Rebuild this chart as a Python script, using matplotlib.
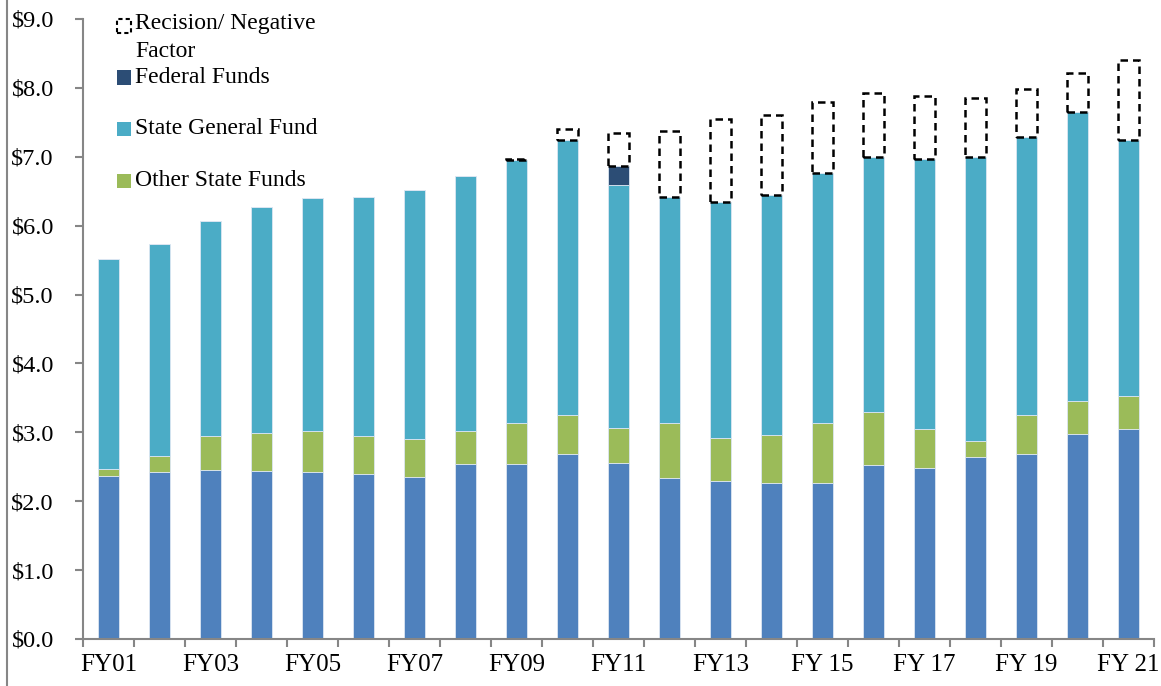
import matplotlib
matplotlib.use("Agg")
import matplotlib.pyplot as plt
import numpy as np
from matplotlib.patches import Rectangle
from matplotlib.lines import Line2D

years = ["FY01", "FY02", "FY03", "FY04", "FY05", "FY06", "FY07", "FY08", "FY09", "FY10",
         "FY11", "FY12", "FY13", "FY14", "FY 15", "FY 16", "FY 17", "FY 18", "FY 19", "FY 20", "FY 21"]

# $ billions, segments bottom -> top
local_funds = [2.36, 2.42, 2.45, 2.44, 2.43, 2.39, 2.35, 2.54, 2.54, 2.68, 2.55,
               2.33, 2.30, 2.26, 2.26, 2.53, 2.48, 2.64, 2.68, 2.98, 3.05]
other_state = [0.11, 0.24, 0.50, 0.55, 0.59, 0.55, 0.55, 0.48, 0.59, 0.57, 0.51,
               0.80, 0.62, 0.70, 0.87, 0.76, 0.57, 0.24, 0.57, 0.47, 0.48]
state_general = [3.05, 3.08, 3.12, 3.28, 3.38, 3.48, 3.62, 3.70, 3.82, 3.99, 3.53,
                 3.28, 3.42, 3.48, 3.64, 3.70, 3.92, 4.11, 4.03, 4.20, 3.71]
federal = [0, 0, 0, 0, 0, 0, 0, 0, 0, 0, 0.28,
           0, 0, 0, 0, 0, 0, 0, 0, 0, 0]
recision = [0, 0, 0, 0, 0, 0, 0, 0, 0.02, 0.17, 0.48,
            0.96, 1.21, 1.17, 1.02, 0.94, 0.91, 0.87, 0.71, 0.57, 1.17]

legend_labels = ["Recision/ Negative\nFactor", "Federal Funds", "State General Fund", "Other State Funds"]

c_local = "#4F81BD"
c_other = "#9BBB59"
c_sgf = "#4BACC6"
c_fed = "#2C4D75"
grey = "#868686"

plt.rcParams['font.family'] = ['Liberation Serif', 'DejaVu Serif']

fig = plt.figure(figsize=(11.61, 6.86), dpi=100)
ax = fig.add_axes([83/1161, 47/686, (1154-83)/1161, (639.3-19.3)/686])

x = np.arange(len(years))
w = 0.40
bottom = np.zeros(len(years))
for vals, col in [(local_funds, c_local), (other_state, c_other), (state_general, c_sgf), (federal, c_fed)]:
    vals = np.array(vals)
    ax.bar(x, vals, w, bottom=bottom, color=col, edgecolor="#DCE6F2", linewidth=0.6, zorder=2)
    bottom = bottom + vals

rec = np.array(recision)
mask = rec > 0
ax.bar(x[mask], rec[mask], w, bottom=bottom[mask], fill=False, edgecolor="black",
       linewidth=1.8, linestyle=(0, (3, 2)), zorder=3)

ax.set_xlim(-0.5, len(years) - 0.5)
ax.set_ylim(0, 9)
ax.set_yticks(np.arange(0, 10, 1))
ax.set_yticklabels(["$%.1f" % v for v in np.arange(0, 10, 1)])

# ticks at category boundaries, labels on every other bar
ax.set_xticks(np.arange(-0.5, len(years), 1))
ax.set_xticklabels([])
ax.set_xticks(x[::2], minor=True)
ax.set_xticklabels(years[::2], minor=True)
ax.tick_params(axis="x", which="minor", length=0, pad=11, labelsize=18)
ax.tick_params(axis="x", which="major", length=6, width=1.5, color=grey)
ax.tick_params(axis="y", length=6, width=1.5, color=grey, pad=15, labelsize=17.5)

for s in ["top", "right"]:
    ax.spines[s].set_visible(False)
for s in ["left", "bottom"]:
    ax.spines[s].set_color(grey)
    ax.spines[s].set_linewidth(1.5)

# hand-built legend, like the Excel one
leg_colors = [None, c_fed, c_sgf, c_other]
leg_y = [26, 77.5, 129, 181]
for lab, col, yy in zip(legend_labels, leg_colors, leg_y):
    yf = 1 - yy / 686
    h = 14 / 686
    wdt = 14 / 1161
    if col is None:
        fig.patches.append(Rectangle((117/1161, yf - h/2), wdt, h, transform=fig.transFigure,
                                     fill=False, edgecolor="black", linewidth=1.5, linestyle=(0, (2, 1.5))))
        fig.text(135/1161, yf + 13/686, lab, fontsize=17, va="top", ha="left", linespacing=1.45)
    else:
        fig.patches.append(Rectangle((117/1161, yf - h/2), wdt, h, transform=fig.transFigure,
                                     facecolor=col, edgecolor="none"))
        fig.text(135/1161, yf, lab, fontsize=17, va="center", ha="left")

# chart border line on the left
fig.add_artist(Line2D([7/1161, 7/1161], [0, 1], transform=fig.transFigure, color=grey, linewidth=1.5))

fig.savefig("out.png", dpi=100)
